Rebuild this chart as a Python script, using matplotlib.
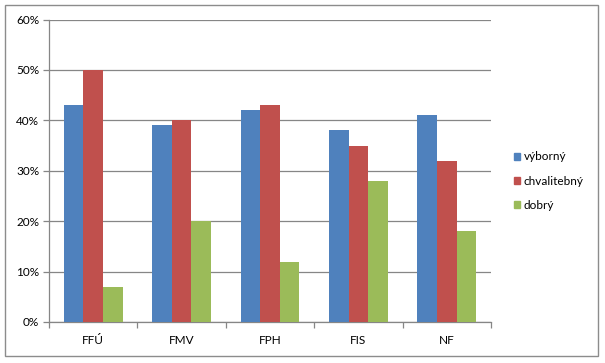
import matplotlib
matplotlib.use("Agg")
import matplotlib.pyplot as plt
import numpy as np
from matplotlib.patches import Rectangle
from matplotlib.ticker import FuncFormatter, MultipleLocator

categories = ["FFÚ", "FMV", "FPH", "FIS", "NF"]
vyborny = [43, 39, 42, 38, 41]
chvalitebny = [50, 40, 43, 35, 32]
dobry = [7, 20, 12, 28, 18]
series_names = ["výborný", "chvalitebný", "dobrý"]
colors = ["#4F81BD", "#C0504D", "#9BBB59"]

plt.rcParams['font.family'] = ['Lato', 'DejaVu Sans']
W, H = 605, 363
fig = plt.figure(figsize=(W / 100, H / 100), dpi=100)

# outer border
fig.patches.append(Rectangle((5 / W, (H - 356) / H), (598 - 5) / W, (356 - 5) / H,
                             transform=fig.transFigure, fill=False,
                             edgecolor="#8C8C8C", linewidth=1.0))

left, right, top, bottom = 49, 491, 19.5, 322
ax = fig.add_axes([left / W, (H - bottom) / H, (right - left) / W, (bottom - top) / H])

x = np.arange(len(categories))
bw = 1 / 4.5
for i, (vals, c, name) in enumerate(zip([vyborny, chvalitebny, dobry], colors, series_names)):
    ax.bar(x + (i - 1) * bw, vals, width=bw, color=c, label=name, zorder=3)

ax.set_xlim(-0.5, len(categories) - 0.5)
ax.set_ylim(0, 60)
ax.yaxis.set_major_locator(MultipleLocator(10))
ax.yaxis.set_major_formatter(FuncFormatter(lambda v, p: f"{int(v)}%"))
ax.grid(axis='y', color="#868686", linewidth=0.9, zorder=0)
ax.set_axisbelow(True)

for s in ["top", "right"]:
    ax.spines[s].set_visible(False)
for s in ["left", "bottom"]:
    ax.spines[s].set_color("#868686")
    ax.spines[s].set_linewidth(0.9)

fs = 8.5
ax.set_xticks(x)
ax.set_xticklabels(categories)
ax.tick_params(axis='x', length=0, pad=9, labelsize=fs, colors="black")
ax.set_xticks(np.arange(-0.5, len(categories)), minor=True)
ax.tick_params(axis='x', which='minor', length=4, color="#868686", width=0.9, direction='out')
ax.tick_params(axis='y', length=4, color="#868686", width=0.9, labelsize=fs, pad=3)

handles = [Rectangle((0, 0), 1, 1, color=c) for c in colors]
fig.legend(handles, series_names, loc="center left",
           bbox_to_anchor=(514 / W, 1 - 181 / H), frameon=False,
           fontsize=fs, handlelength=0.55, handleheight=0.55, handletextpad=0.25,
           labelspacing=1.12, borderpad=0, borderaxespad=0)

fig.savefig("out.png", dpi=100)
